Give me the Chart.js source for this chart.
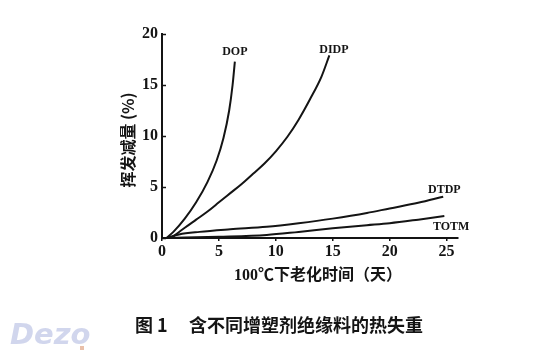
<!DOCTYPE html>
<html>
<head>
<meta charset="utf-8">
<script src="https://cdn.jsdelivr.net/npm/chart.js@4/dist/chart.umd.min.js"></script>
<style>
  html, body { margin: 0; padding: 0; background: #fff; }
  #wrap { position: relative; width: 548px; height: 360px; }
</style>
</head>
<body>
<div id="wrap"><canvas id="c" width="548" height="360"></canvas></div>
<script>
// ---- data ----
const dopX  = [0.4, 1.0, 2.0, 3.0, 4.0, 4.8, 5.4, 5.9, 6.2, 6.4];
const dopY  = [0.0, 0.6, 1.9, 3.5, 5.5, 7.6, 9.8, 12.5, 15.0, 17.3];
const didpX = [0.8, 2.0, 3.0, 4.0, 5.0, 6.0, 7.0, 8.0, 9.0, 10.0, 11.0, 12.0, 13.0, 14.0, 14.7];
const didpY = [0.0, 1.0, 1.8, 2.6, 3.5, 4.4, 5.3, 6.3, 7.3, 8.5, 9.9, 11.6, 13.6, 15.8, 17.9];
const dtdpX = [0.4, 1.5, 3.3, 6.0, 9.2, 12.0, 15.0, 18.0, 20.0, 22.5, 24.7];
const dtdpY = [0.0, 0.35, 0.6, 0.85, 1.1, 1.45, 1.9, 2.45, 2.9, 3.45, 4.05];
const totmX = [0.5, 5.0, 9.2, 12.0, 15.0, 18.0, 20.0, 22.5, 24.8];
const totmY = [0.0, 0.12, 0.3, 0.6, 0.95, 1.25, 1.45, 1.8, 2.15];

const seriesNames = ['DOP', 'DIDP', 'DTDP', 'TOTM'];
const labelX = [6.4, 15.1, 24.8, 25.4];
const labelY = [18.2, 18.4, 4.7, 1.1];

const xTicks = [0, 5, 10, 15, 20, 25];
const yTicks = [0, 5, 10, 15, 20];

const xTitle = '100℃下老化时间（天）';
const yTitle = '挥发减量 (%)';
const captionNo = '图 1';
const captionText = '含不同增塑剂绝缘料的热失重';

const toPts = (xs, ys) => xs.map((x, i) => ({ x: x, y: ys[i] }));
const ink = '#141414';

function ds(xs, ys) {
  return {
    data: toPts(xs, ys),
    showLine: true,
    borderColor: ink,
    borderWidth: 2,
    pointRadius: 0,
    cubicInterpolationMode: 'monotone',
    fill: false
  };
}

const textPlugin = {
  id: 'texts',
  afterDraw(chart) {
    const ctx = chart.ctx;
    const xs = chart.scales.x, ys = chart.scales.y;
    ctx.save();
    // inward y ticks
    ctx.strokeStyle = ink;
    ctx.lineWidth = 1.5;
    const ax = xs.getPixelForValue(0);
    yTicks.forEach(v => {
      const py = Math.round(ys.getPixelForValue(v)) + 0.5;
      ctx.beginPath();
      ctx.moveTo(ax, py);
      ctx.lineTo(ax + 4, py);
      ctx.stroke();
    });
    ctx.fillStyle = ink;
    // series labels
    ctx.font = 'bold 12px "Liberation Serif", serif';
    ctx.textAlign = 'center';
    ctx.textBaseline = 'middle';
    seriesNames.forEach((n, i) => {
      ctx.fillText(n, xs.getPixelForValue(labelX[i]), ys.getPixelForValue(labelY[i]));
    });
    // x title
    ctx.font = 'bold 16px "Liberation Serif", "Noto Sans CJK SC", serif';
    ctx.fillText(xTitle, 318, 276);
    // y title
    ctx.save();
    ctx.translate(128, 140);
    ctx.rotate(-Math.PI / 2);
    ctx.font = 'bold 16px "Noto Sans CJK SC", serif';
    ctx.fillText(yTitle, 0, 0);
    ctx.restore();
    // caption
    ctx.textAlign = 'left';
    ctx.font = 'bold 18px "Noto Sans CJK SC", sans-serif';
    ctx.fillText(captionNo, 135, 325);
    ctx.fillText(captionText, 189, 325);
    // watermark
    ctx.fillStyle = 'rgba(178,186,225,0.6)';
    ctx.font = 'italic bold 29px "DejaVu Sans", sans-serif';
    ctx.fillText('Dezo', 10, 336);
    ctx.fillStyle = 'rgba(215,140,100,0.55)';
    ctx.fillRect(80, 346, 4, 4);
    ctx.restore();
  }
};

new Chart(document.getElementById('c'), {
  type: 'scatter',
  data: { datasets: [ds(dopX, dopY), ds(didpX, didpY), ds(dtdpX, dtdpY), ds(totmX, totmY)] },
  options: {
    responsive: false,
    animation: false,
    events: [],
    layout: { padding: { top: 34, right: 90, left: 0, bottom: 0 } },
    plugins: { legend: { display: false }, tooltip: { enabled: false } },
    scales: {
      x: {
        type: 'linear', min: 0, max: 26,
        afterBuildTicks: s => { s.ticks = xTicks.map(v => ({ value: v })); },
        afterFit: s => { s.height = 122; },
        grid: { drawOnChartArea: false, drawTicks: true, tickLength: 3, color: ink, lineWidth: 1.5 },
        border: { display: true, color: ink, width: 2 },
        ticks: { color: ink, padding: 1, maxRotation: 0, font: { family: '"Liberation Serif", serif', size: 16, weight: 'bold' } }
      },
      y: {
        type: 'linear', min: 0, max: 20,
        afterBuildTicks: s => { s.ticks = yTicks.map(v => ({ value: v })); },
        afterFit: s => { s.width = 162; },
        grid: { drawOnChartArea: false, drawTicks: false, color: ink, lineWidth: 1.5 },
        border: { display: true, color: ink, width: 2 },
        ticks: { color: ink, padding: 4, font: { family: '"Liberation Serif", serif', size: 16, weight: 'bold' } }
      }
    }
  },
  plugins: [textPlugin]
});
</script>
</body>
</html>
